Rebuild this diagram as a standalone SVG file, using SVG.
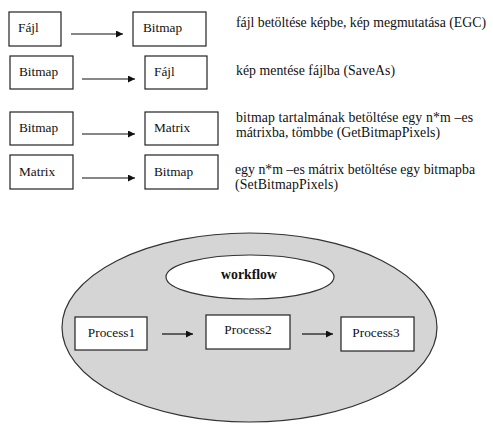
<svg xmlns="http://www.w3.org/2000/svg" width="493" height="431" viewBox="0 0 493 431" font-family="Liberation Serif, serif">
<defs>
<style>
.box{fill:#fff;stroke:#222;stroke-width:1.2}
.t{font-family:'Liberation Serif',serif;font-size:13.3px;fill:#111}
.d{font-family:'Liberation Serif',serif;font-size:13.8px;fill:#111}
.b{font-weight:bold;font-size:13.8px}
.line{stroke:#111;stroke-width:1.2;fill:none}
</style>
<marker id="ah" viewBox="0 0 10 10" refX="10" refY="5" markerWidth="8" markerHeight="7" markerUnits="userSpaceOnUse" orient="auto">
<path d="M0,0 L10,5 L0,10 z" fill="#111"/>
</marker>
</defs>
<rect width="493" height="431" fill="#fff"/>

<g id="workflow-area">
<ellipse cx="249.5" cy="327.5" rx="187.5" ry="94.5" fill="#d5d5d5" stroke="#333" stroke-width="1.2"/>
</g>
<g id="workflow">
<ellipse cx="250" cy="277" rx="84" ry="22" fill="#fff" stroke="#333" stroke-width="1.2"/>
<text class="t b" x="249" y="279" text-anchor="middle">workflow</text>
</g>

<g id="r1-fajl"><rect class="box" x="9" y="12" width="52" height="34"/><text class="t" x="18" y="32">Fájl</text></g>
<g id="r1-bitmap"><rect class="box" x="133" y="12" width="73" height="34"/><text class="t" x="143" y="32">Bitmap</text></g>
<g id="r2-bitmap"><rect class="box" x="10" y="56" width="63" height="33"/><text class="t" x="19" y="76">Bitmap</text></g>
<g id="r2-fajl"><rect class="box" x="145" y="56" width="62" height="33"/><text class="t" x="154" y="76">Fájl</text></g>
<g id="r3-bitmap"><rect class="box" x="10" y="112" width="63" height="33"/><text class="t" x="19" y="131.5">Bitmap</text></g>
<g id="r3-matrix"><rect class="box" x="145" y="112" width="73" height="33"/><text class="t" x="154" y="131.5">Matrix</text></g>
<g id="r4-matrix"><rect class="box" x="10" y="155" width="63" height="34"/><text class="t" x="19" y="175.5">Matrix</text></g>
<g id="r4-bitmap"><rect class="box" x="145" y="155" width="73" height="34"/><text class="t" x="154" y="175.5">Bitmap</text></g>

<g id="desc">
<text class="d" x="236" y="27" textLength="250" lengthAdjust="spacing">fájl betöltése képbe, kép megmutatása (EGC)</text>
<text class="d" x="236" y="75" textLength="159" lengthAdjust="spacing">kép mentése fájlba (SaveAs)</text>
<text class="d" x="236" y="121.5" textLength="237" lengthAdjust="spacing">bitmap tartalmának betöltése egy n*m –es</text>
<text class="d" x="236" y="137" textLength="204" lengthAdjust="spacing">mátrixba, tömbbe (GetBitmapPixels)</text>
<text class="d" x="235" y="173.5" textLength="240" lengthAdjust="spacing">egy n*m –es mátrix betöltése egy bitmapba</text>
<text class="d" x="235" y="189" textLength="103" lengthAdjust="spacing">(SetBitmapPixels)</text>
</g>

<g id="p1"><rect class="box" x="75" y="317" width="72" height="33"/><text class="t" x="111.5" y="337" text-anchor="middle">Process1</text></g>
<g id="p2"><rect class="box" x="206" y="315" width="84" height="34"/><text class="t" x="248" y="334" text-anchor="middle">Process2</text></g>
<g id="p3"><rect class="box" x="341" y="317" width="73" height="34"/><text class="t" x="376" y="337" text-anchor="middle">Process3</text></g>

<g id="connectors">
<line class="line" x1="71" y1="34" x2="123" y2="34" marker-end="url(#ah)"/>
<line class="line" x1="82" y1="79" x2="135" y2="79" marker-end="url(#ah)"/>
<line class="line" x1="82" y1="134" x2="135" y2="134" marker-end="url(#ah)"/>
<line class="line" x1="82" y1="178" x2="135" y2="178" marker-end="url(#ah)"/>
<line class="line" x1="162" y1="334" x2="193" y2="334" marker-end="url(#ah)"/>
<line class="line" x1="302" y1="334" x2="333" y2="334" marker-end="url(#ah)"/>
</g>
</svg>
